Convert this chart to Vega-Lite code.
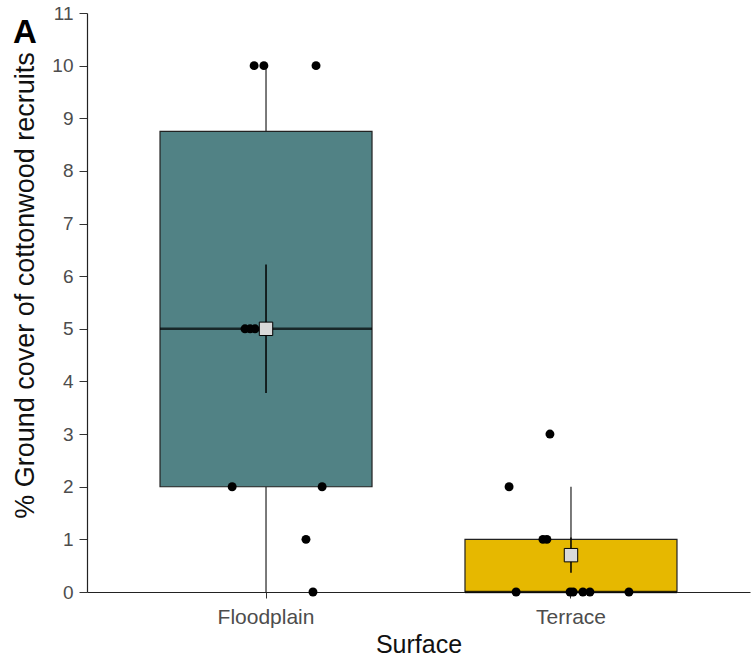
{
  "$schema": "https://vega.github.io/schema/vega-lite/v6.json",
  "width": 663,
  "height": 579,
  "autosize": "none",
  "padding": {"left": 87, "top": 13, "right": 1, "bottom": 69},
  "background": "white",
  "config": {"view": {"stroke": null}, "font": "Liberation Sans"},
  "title": {"text": "A", "anchor": "start", "frame": "group", "orient": "none", "offset": 0, "baseline": "alphabetic", "align": "left", "fontSize": 33, "fontWeight": "bold", "color": "black", "dx": -74, "dy": 30},
  "data": {"values": [
    {"Surface": "Floodplain", "value": 10, "jitter": -0.039},
    {"Surface": "Floodplain", "value": 10, "jitter": -0.007},
    {"Surface": "Floodplain", "value": 10, "jitter": 0.164},
    {"Surface": "Floodplain", "value": 5, "jitter": -0.069},
    {"Surface": "Floodplain", "value": 5, "jitter": -0.052},
    {"Surface": "Floodplain", "value": 5, "jitter": -0.036},
    {"Surface": "Floodplain", "value": 2, "jitter": -0.111},
    {"Surface": "Floodplain", "value": 2, "jitter": 0.184},
    {"Surface": "Floodplain", "value": 1, "jitter": 0.131},
    {"Surface": "Floodplain", "value": 0, "jitter": 0.154},
    {"Surface": "Terrace", "value": 3, "jitter": -0.069},
    {"Surface": "Terrace", "value": 2, "jitter": -0.203},
    {"Surface": "Terrace", "value": 1, "jitter": -0.092},
    {"Surface": "Terrace", "value": 1, "jitter": -0.079},
    {"Surface": "Terrace", "value": 0, "jitter": -0.18},
    {"Surface": "Terrace", "value": 0, "jitter": -0.003},
    {"Surface": "Terrace", "value": 0, "jitter": 0.007},
    {"Surface": "Terrace", "value": 0, "jitter": 0.039},
    {"Surface": "Terrace", "value": 0, "jitter": 0.062},
    {"Surface": "Terrace", "value": 0, "jitter": 0.19}
  ]},
  "encoding": {
    "x": {
      "field": "Surface", "type": "nominal",
      "scale": {"paddingInner": 0.3, "paddingOuter": 0.237},
      "axis": {"title": "Surface", "labelAngle": 0, "domainColor": "#222", "domainWidth": 1.2, "tickColor": "#333", "tickSize": 6, "labelColor": "#4d4d4d", "labelFontSize": 21, "labelPadding": 8, "titleFontSize": 25, "titleFontWeight": "normal", "titleColor": "#111", "titlePadding": 5}
    }
  },
  "layer": [
    {
      "mark": {"type": "boxplot", "extent": 1.5, "size": 212, "outliers": false,
        "box": {"stroke": "#222", "strokeWidth": 1.2},
        "median": {"color": "black", "thickness": 2.5},
        "rule": {"color": "#222", "strokeWidth": 1.2}},
      "encoding": {
        "y": {"field": "value", "type": "quantitative", "title": "% Ground cover of cottonwood recruits",
          "scale": {"domain": [0, 11], "nice": false},
          "axis": {"values": [0,1,2,3,4,5,6,7,8,9,10,11], "grid": false, "domainColor": "#222", "domainWidth": 1.2, "tickColor": "#333", "tickSize": 8, "labelColor": "#4d4d4d", "labelFontSize": 19, "labelPadding": 6, "titleFontSize": 27, "titleFontWeight": "normal", "titleColor": "#111", "titlePadding": 12, "titleY": 272}},
        "color": {"field": "Surface", "type": "nominal", "scale": {"domain": ["Floodplain", "Terrace"], "range": ["#518285", "#E6B800"]}, "legend": null}
      }
    },
    {
      "mark": {"type": "point", "filled": true, "color": "black", "size": 80, "opacity": 1},
      "encoding": {
        "xOffset": {"field": "jitter", "type": "quantitative", "scale": {"domain": [-0.35, 0.35]}},
        "y": {"field": "value", "type": "quantitative", "title": "% Ground cover of cottonwood recruits"}
      }
    },
    {
      "mark": {"type": "errorbar", "extent": "stderr", "color": "black", "thickness": 1.5},
      "encoding": {
        "y": {"field": "value", "type": "quantitative", "title": "% Ground cover of cottonwood recruits"}
      }
    },
    {
      "mark": {"type": "point", "shape": "square", "filled": true, "fill": "#d9d9d9", "stroke": "black", "strokeWidth": 1, "size": 180, "opacity": 1},
      "encoding": {
        "y": {"aggregate": "mean", "field": "value", "type": "quantitative", "title": "% Ground cover of cottonwood recruits"}
      }
    }
  ]
}
